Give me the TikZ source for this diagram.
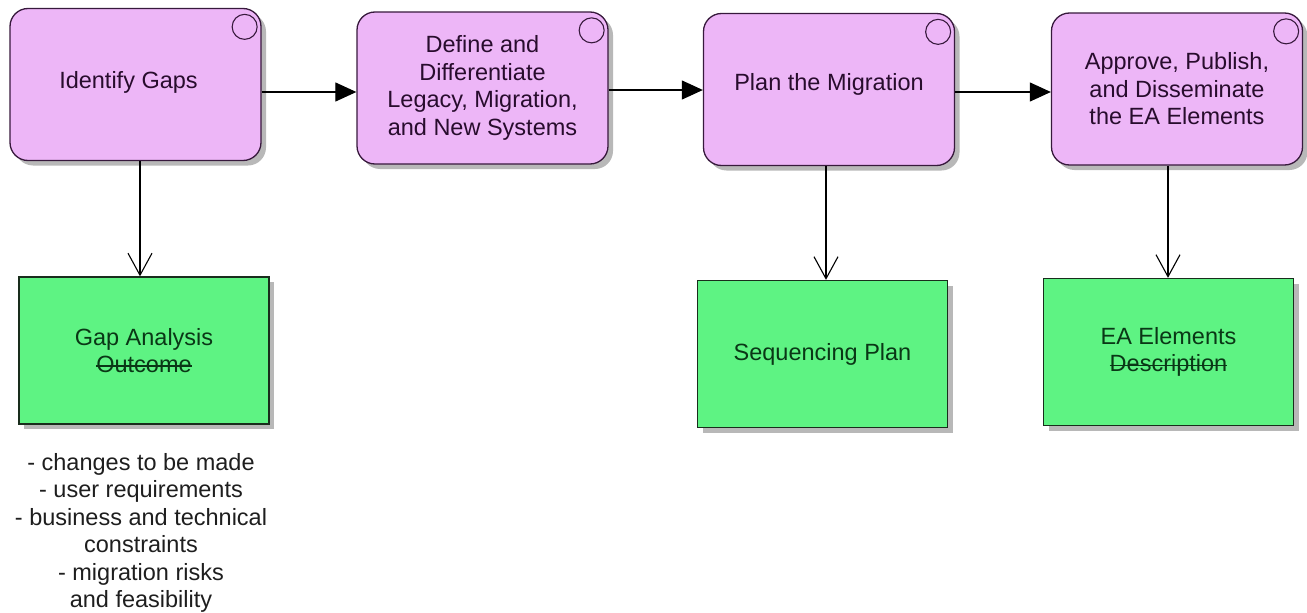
\documentclass[tikz,border=0pt]{standalone}
\usepackage{fontspec}
\setmainfont{Liberation Sans}
\usetikzlibrary{arrows.meta,shadows}

\definecolor{actfill}{RGB}{237,182,247}
\definecolor{actline}{RGB}{55,25,60}
\definecolor{acttext}{RGB}{40,12,45}
\definecolor{objfill}{RGB}{94,243,131}
\definecolor{objline}{RGB}{25,45,28}
\definecolor{objtext}{RGB}{10,55,22}
\definecolor{notetext}{RGB}{30,30,30}

% struck-through word: text with a rule across its x-height middle
\newsavebox{\strikebox}
\newcommand{\strikeword}[1]{\sbox{\strikebox}{#1}\rlap{\usebox{\strikebox}}\rule[0.26em]{\wd\strikebox}{1.1pt}}
% move a label inside its box without changing the box size
\newcommand{\nudge}[3]{\raisebox{#2}[\height][\depth]{\hspace*{#1}#3\hspace*{-#1}}}

\begin{document}
\begin{tikzpicture}[x=1pt,y=-1pt,
  every node/.style={font=\fontsize{23.5}{27.5}\selectfont, align=center, inner sep=0pt},
  boxshadow/.style={drop shadow={shadow xshift=5pt,shadow yshift=-5pt,fill=black,opacity=0.28}},
  activity/.style={draw=actline, line width=1.3pt, fill=actfill, text=acttext,
    rounded corners=18pt, minimum width=251pt, minimum height=152pt, boxshadow},
  artefact/.style={draw=objline, line width=1.3pt, fill=objfill, text=objtext,
    minimum width=250pt, minimum height=147pt, boxshadow},
  icon/.style={draw=actline, line width=1.1pt},
  flow/.style={line width=1.2pt, -{Triangle[length=21pt,width=19pt]}},
  produces/.style={line width=1.1pt, -{Straight Barb[length=22pt,width=24pt]}}
]
\useasboundingbox (0,0) rectangle (1307,613);

% process steps
\node[activity] (b1) at (135.5,84.5) {\nudge{-7pt}{2pt}{Identify Gaps}};
\node[activity] (b2) at (482.5,88) {Define and\\Differentiate\\Legacy, Migration,\\and New Systems};
\node[activity] (b3) at (829,89.5) {\nudge{0pt}{5pt}{Plan the Migration}};
\node[activity] (b4) at (1177,89) {Approve, Publish,\\and Disseminate\\the EA Elements};

% step markers
\foreach \b in {b1,b2,b3,b4}
  \draw[icon] ([xshift=-17pt,yshift=-19pt]\b.north east) circle[radius=12.5pt];

% deliverables
\node[artefact] (g1) at (144,350.5) {Gap Analysis\\\strikeword{Outcome}};
\node[artefact] (g2) at (822.5,354) {Sequencing Plan};
\node[artefact] (g3) at (1168.5,352) {EA Elements\\\strikeword{Description}};

% notes under the gap analysis
\node[text=notetext] (notes) at (141,533)
  {- changes to be made\\- user requirements\\- business and technical\\constraints\\- migration risks\\and feasibility};

% connector guides
\coordinate (h1) at (0,92);
\coordinate (h2) at (0,90);
\coordinate (h3) at (0,92);
\coordinate (v1) at (140,0);
\coordinate (v2) at (826,0);
\coordinate (v3) at (1168,0);

% sequence flow
\draw[flow] (b1.east |- h1) -- (b2.west |- h1);
\draw[flow] (b2.east |- h2) -- (b3.west |- h2);
\draw[flow] (b3.east |- h3) -- (b4.west |- h3);

% outputs
\draw[produces] (b1.south -| v1) -- (g1.north -| v1);
\draw[produces] (b3.south -| v2) -- (g2.north -| v2);
\draw[produces] (b4.south -| v3) -- (g3.north -| v3);
\end{tikzpicture}
\end{document}
